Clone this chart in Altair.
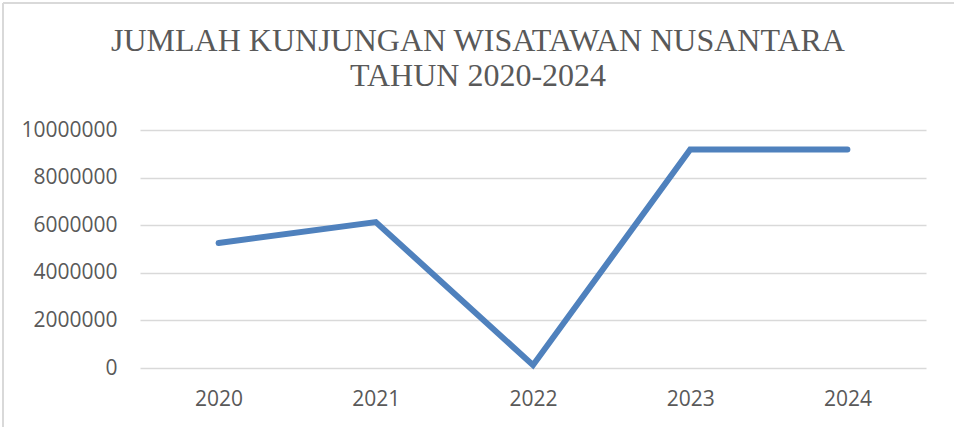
import altair as alt
import pandas as pd

years = ["2020", "2021", "2022", "2023", "2024"]
visits = [5250000, 6130000, 120000, 9180000, 9180000]
y_ticks = [0, 2000000, 4000000, 6000000, 8000000, 10000000]

df = pd.DataFrame({"Tahun": years, "Jumlah": visits})

line = alt.Chart(df).mark_line(
    color="#4f81bd", strokeWidth=6, strokeCap="round"
).encode(
    x=alt.X("Tahun:O", sort=years,
            scale=alt.Scale(type="point", padding=0.5),
            axis=alt.Axis(title=None, labelAngle=0, domain=False, ticks=False,
                          grid=False, labelPadding=20)),
    y=alt.Y("Jumlah:Q",
            scale=alt.Scale(domain=[0, 10000000], nice=False),
            axis=alt.Axis(title=None, values=y_ticks, format="d", domain=False,
                          ticks=False, grid=True, gridColor="#d9d9d9",
                          gridWidth=1.4, labelPadding=23)),
)

border = alt.Chart(df).mark_rule(color="#d9d9d9", strokeWidth=2).encode(
    x=alt.value(-137), y=alt.value(-127), y2=alt.value(300)
) + alt.Chart(df).mark_rule(color="#d9d9d9", strokeWidth=2).encode(
    x=alt.value(-137), x2=alt.value(814), y=alt.value(-127)
)

chart = alt.layer(border, line).properties(
    width=786,
    height=238,
    padding={"left": 140, "top": 130, "right": 28, "bottom": 59},
    autosize=alt.AutoSizeParams(type="none"),
    title=alt.TitleParams(
        text=["JUMLAH KUNJUNGAN WISATAWAN NUSANTARA", "TAHUN 2020-2024"],
        font="Liberation Serif", fontSize=32, fontWeight="normal",
        color="#595959", lineHeight=35, anchor="middle", dx=-55, offset=-91,
    ),
).configure_view(stroke=None).configure_axis(
    labelFont="Open Sans", labelFontSize=21, labelColor="#595959"
)

chart.save("out.html", embed_options={"renderer": "svg", "actions": False})
